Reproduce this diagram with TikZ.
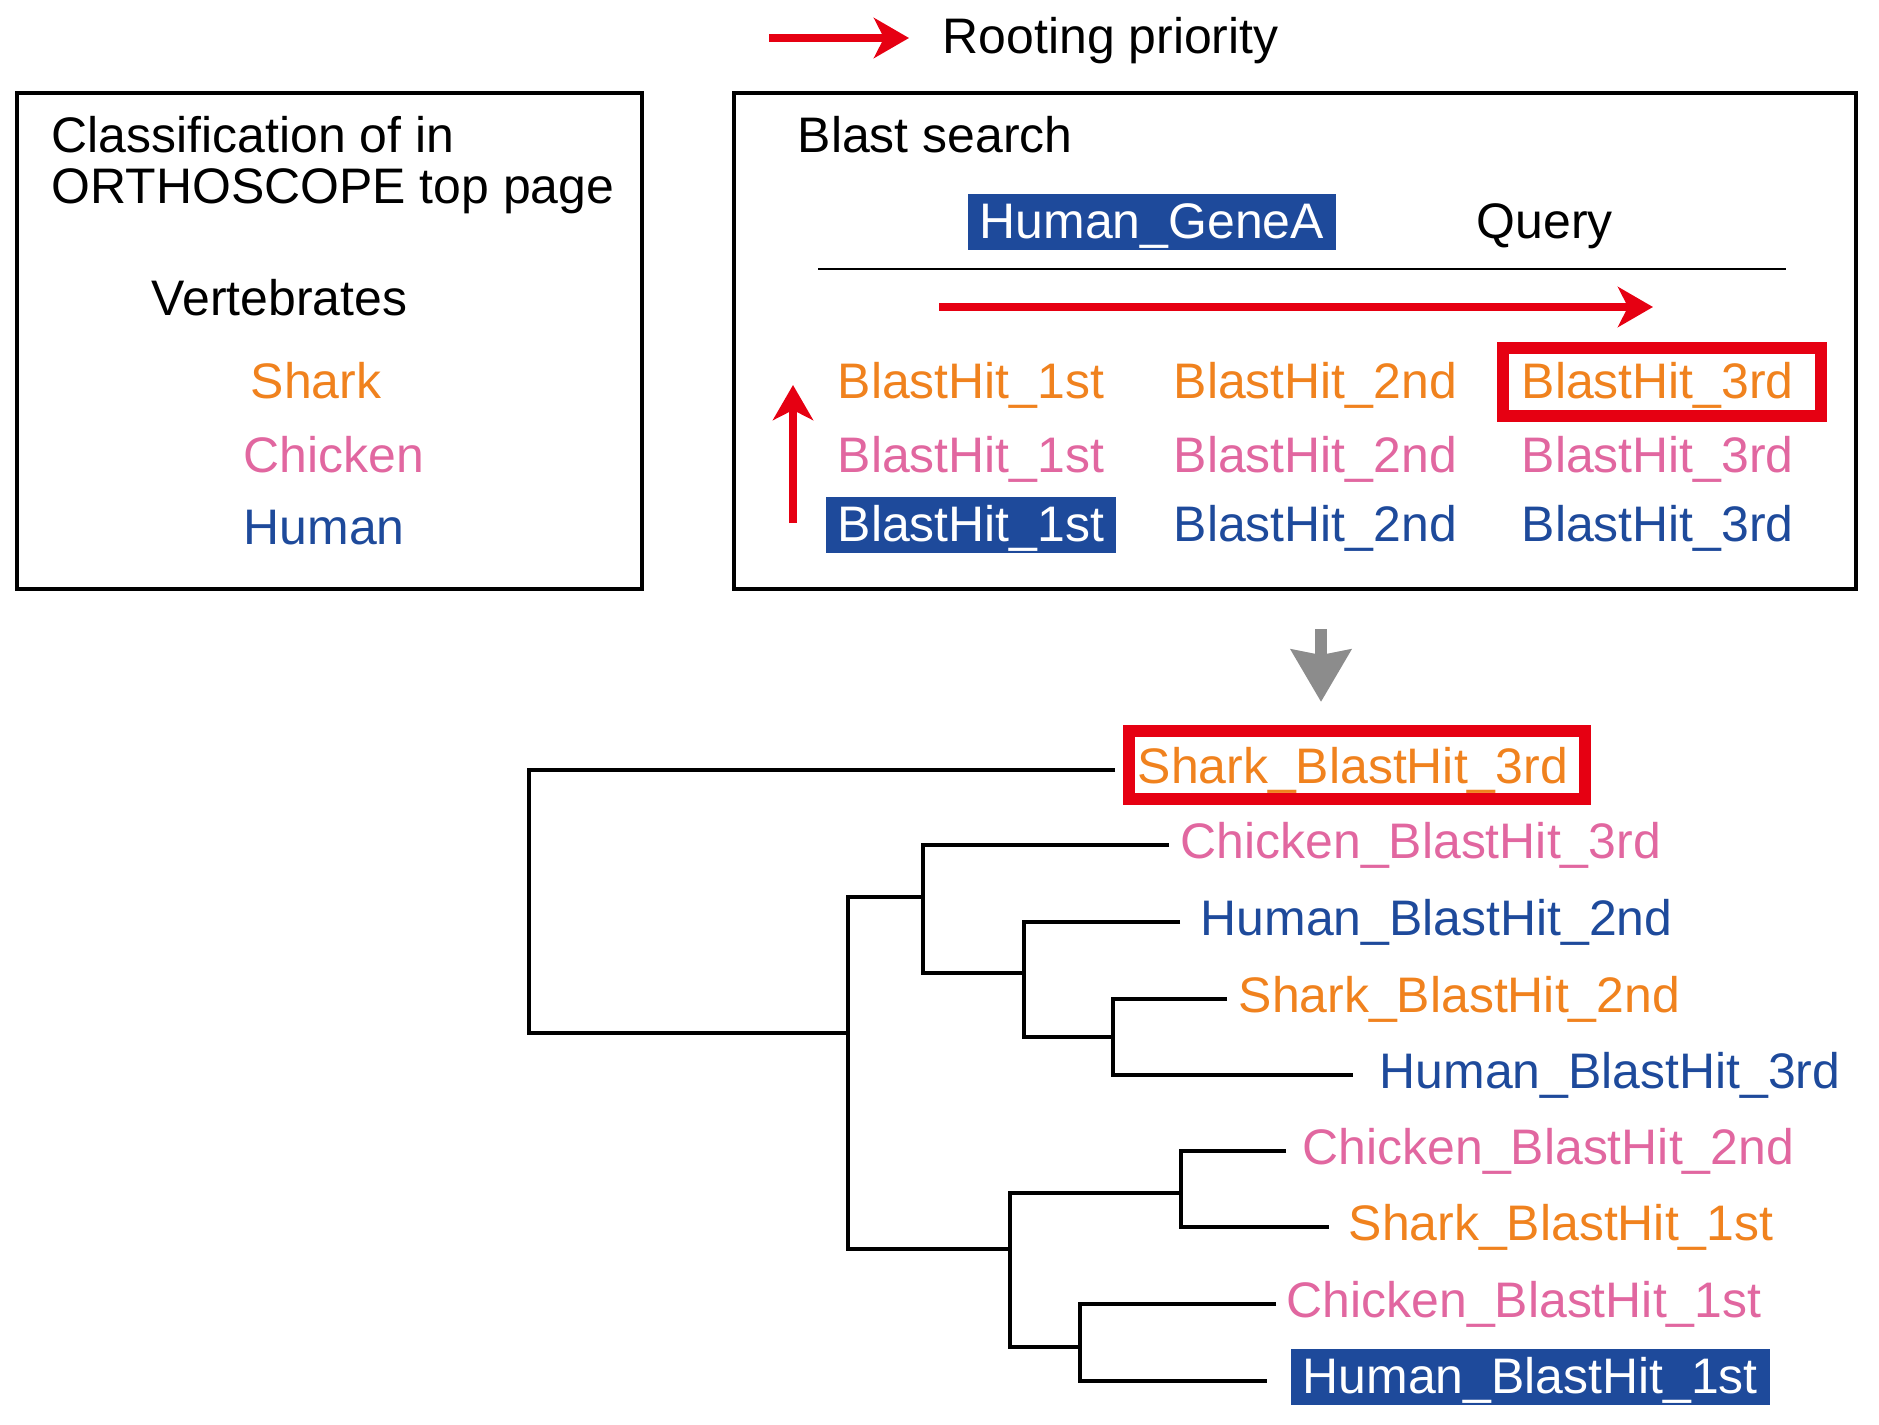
\documentclass[tikz,border=0pt]{standalone}
\usepackage{fontspec}
\setmainfont{Liberation Sans}
\usetikzlibrary{arrows.meta}

\definecolor{sharkc}{RGB}{240,130,30}
\definecolor{chickc}{RGB}{225,103,160}
\definecolor{humanc}{RGB}{30,74,155}
\definecolor{pred}{RGB}{230,0,18}
\definecolor{arrgray}{RGB}{140,140,140}

\tikzset{
    lbl/.style={anchor=base west, inner sep=0pt, text height=0.36cm, text depth=0.1cm},
    hl/.style={lbl, fill=humanc, text=white, inner xsep=0.12cm, inner ysep=0.08cm, text depth=0.04cm},
    frame/.style={draw, line width=1pt},
    pick/.style={draw=pred, line width=3.4pt},
    prio/.style={draw=pred, line width=2.3pt, -{Stealth[length=0.35cm, width=0.4cm, inset=0.1cm]}},
    branch/.style={line width=1.15pt},
}

\begin{document}
\begin{tikzpicture}[x=0.01cm, y=-0.01cm, font=\fontsize{14.2pt}{17pt}\selectfont]
            \useasboundingbox (0,0) rectangle (1879,1424);

            % legend
            \coordinate (ls) at (769,38);
            \coordinate (le) at (909,38);
            \draw[prio] (ls) -- (le);
            \node[lbl] (legend) at (942,53) {Rooting priority};

            % classification box
            \draw[frame] (17,93) rectangle (642,589);
            \node[lbl] (cls1) at (51,152) {Classification of in};
            \node[lbl] (cls2) at (51,203) {ORTHOSCOPE top page};
            \node[lbl] (vert) at (151,315) {Vertebrates};
            \node[lbl, text=sharkc] (shark) at (250,398) {Shark};
            \node[lbl, text=chickc] (chicken) at (243,472) {Chicken};
            \node[lbl, text=humanc] (human) at (243,544) {Human};

            % blast box
            \draw[frame] (734,93) rectangle (1856,589);
            \node[lbl] (blast) at (797,152) {Blast search};
            \node[hl] (gene) at (967,238) {Human\_GeneA};
            \node[lbl] (query) at (1476,238) {Query};
            \coordinate (ql) at (818,269);
            \coordinate (qr) at (1786,269);
            \draw[line width=0.8pt] (ql) -- (qr);
            \coordinate (hs) at (939,307);
            \coordinate (he) at (1653,307);
            \draw[prio] (hs) -- (he);
            \coordinate (vs) at (793,523);
            \coordinate (ve) at (793,385);
            \draw[prio] (vs) -- (ve);
            \foreach \r/\col/\y in {1/sharkc/398,2/chickc/472}
                {
                    \foreach \k/\x/\s in {1/837/1st,2/1173/2nd,3/1521/3rd}
                        {
                            \node[lbl, text=\col] (h\r\k) at (\x,\y) {BlastHit\_\s};
                        }
                }
            \node[hl] (h31) at (825,541) {BlastHit\_1st};
            \foreach \k/\x/\s in {2/1173/2nd,3/1521/3rd}
                {
                    \node[lbl, text=humanc] (h3\k) at (\x,541) {BlastHit\_\s};
                }
            \draw[pick] ([shift={(-0.18cm,-0.07cm)}]h13.south west) rectangle ([shift={(0.265cm,0.13cm)}]h13.north east);

            % down arrow
            \coordinate (g1) at (1321,629);
            \coordinate (g2) at (1321,702);
            \draw[draw=arrgray, line width=3.4pt, -{Stealth[length=0.52cm, width=0.59cm, inset=0.05cm]}] (g1) -- (g2);

            % tree leaves
            \node[lbl, text=sharkc] (sh3) at (1137,783) {Shark\_BlastHit\_3rd};
            \node[lbl, text=chickc] (ch3) at (1180,858) {Chicken\_BlastHit\_3rd};
            \node[lbl, text=humanc] (hu2) at (1200,935) {Human\_BlastHit\_2nd};
            \node[lbl, text=sharkc] (sh2) at (1238,1012) {Shark\_BlastHit\_2nd};
            \node[lbl, text=humanc] (hu3) at (1379,1088) {Human\_BlastHit\_3rd};
            \node[lbl, text=chickc] (ch2) at (1302,1164) {Chicken\_BlastHit\_2nd};
            \node[lbl, text=sharkc] (sh1) at (1348,1240) {Shark\_BlastHit\_1st};
            \node[lbl, text=chickc] (ch1) at (1286,1317) {Chicken\_BlastHit\_1st};
            \node[hl] (hu1) at (1290,1393) {Human\_BlastHit\_1st};
            \draw[pick] ([shift={(-0.08cm,-0.05cm)}]sh3.south west) rectangle ([shift={(0.16cm,0.15cm)}]sh3.north east);

            % tree branches
            \coordinate (R) at (529,901);
            \coordinate (A) at (848,1033);
            \coordinate (B) at (923,897);
            \coordinate (C) at (1024,973);
            \coordinate (D) at (1113,1037);
            \coordinate (E) at (1010,1249);
            \coordinate (F) at (1181,1193);
            \coordinate (G) at (1080,1347);
            \draw[branch] ([xshift=-0.22cm]sh3.west) -| (R) |- (A);
            \draw[branch] (B) -| (A) |- (E);
            \draw[branch] ([xshift=-0.11cm]ch3.west) -| (B) |- (C);
            \draw[branch] ([xshift=-0.2cm]hu2.west) -| (C) |- (D);
            \draw[branch] ([xshift=-0.11cm]sh2.west) -| (D) |- ([xshift=-0.26cm]hu3.west);
            \draw[branch] (F) -| (E) |- (G);
            \draw[branch] ([xshift=-0.16cm]ch2.west) -| (F) |- ([xshift=-0.19cm]sh1.west);
            \draw[branch] ([xshift=-0.1cm]ch1.west) -| (G) |- ([shift={(-0.23cm,-0.04cm)}]hu1.west);
        \end{tikzpicture}
\end{document}
